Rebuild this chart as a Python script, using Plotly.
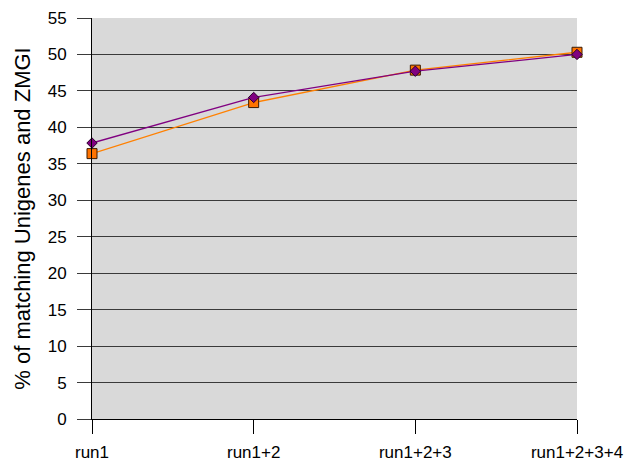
import plotly.graph_objects as go

categories = ["run1", "run1+2", "run1+2+3", "run1+2+3+4"]
series_purple = [37.85, 44.1, 47.7, 50.0]
series_orange = [36.4, 43.4, 47.85, 50.3]
y_ticks = list(range(0, 56, 5))

x_idx = list(range(len(categories)))

fig = go.Figure()
fig.add_trace(go.Scatter(
    x=x_idx, y=series_orange, mode="lines+markers",
    line=dict(color="#ff8000", width=1.3),
    marker=dict(symbol="square", size=10, color="#ff7300",
                line=dict(color="#3a1a00", width=1)),
    showlegend=False, cliponaxis=False))
fig.add_trace(go.Scatter(
    x=x_idx, y=series_purple, mode="lines+markers",
    line=dict(color="#800080", width=1.3),
    marker=dict(symbol="diamond", size=8, color="#800080",
                line=dict(color="#2a002a", width=1)),
    showlegend=False, cliponaxis=False))

fig.update_layout(
    width=629, height=461,
    margin=dict(l=92, r=52, t=18, b=42),
    paper_bgcolor="white",
    plot_bgcolor="#d9d9d9",
    font=dict(family="Liberation Sans, Arial, sans-serif", size=17, color="black"),
)
fig.update_xaxes(
    range=[0, 3], tickvals=x_idx, ticktext=categories,
    showgrid=False, zeroline=False, automargin=False,
    showline=True, linecolor="black", linewidth=1,
    ticks="outside", ticklen=14, tickcolor="black", tickwidth=1,
    tickfont=dict(size=17), ticklabelstandoff=4,
)
fig.update_yaxes(
    range=[0, 55], tickvals=y_ticks, automargin=False,
    showgrid=True, gridcolor="#3a3a3a", gridwidth=1,
    zeroline=False,
    showline=True, linecolor="black", linewidth=1,
    ticks="outside", ticklen=14, tickcolor="#3a3a3a", tickwidth=1,
    tickfont=dict(size=17), ticklabelstandoff=7,
    title=dict(text="% of matching Unigenes and ZMGI", font=dict(size=22), standoff=10),
)

fig.write_html("out.html", config={"displayModeBar": False},
               post_script="document.body.style.margin='0';")
